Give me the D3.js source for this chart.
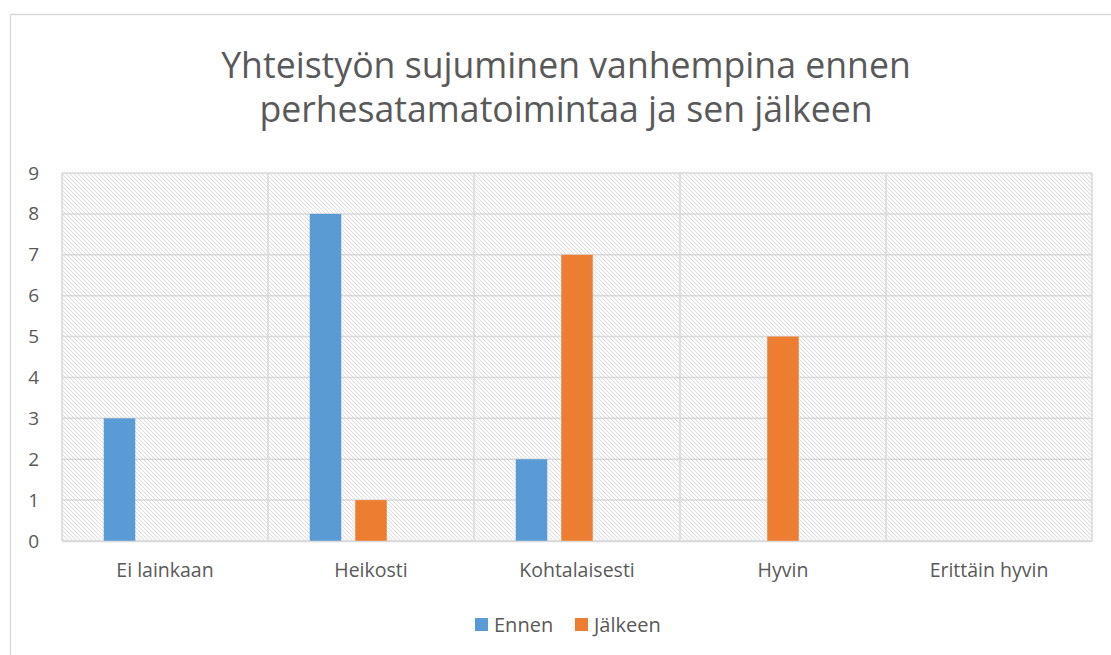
<!DOCTYPE html>
<html><head><meta charset="utf-8">
<script src="https://cdn.jsdelivr.net/npm/d3@7"></script>
<style>html,body{margin:0;padding:0;background:#fff;}svg{display:block;}</style>
</head><body>
<svg id="c" width="1111" height="655"></svg>
<script>
const categories = ["Ei lainkaan", "Heikosti", "Kohtalaisesti", "Hyvin", "Erittäin hyvin"];
const seriesNames = ["Ennen", "Jälkeen"];
const ennen = [3, 8, 2, 0, 0];
const jalkeen = [0, 1, 7, 5, 0];
const yTicks = [0, 1, 2, 3, 4, 5, 6, 7, 8, 9];
const titleLines = ["Yhteistyön sujuminen vanhempina ennen", "perhesatamatoimintaa ja sen jälkeen"];
const colors = ["#5B9BD5", "#ED7D31"];

const svg = d3.select("#c");
const textColor = "#595959";
const gridColor = "#d9d9d9";
const font = "'Open Sans', sans-serif";

svg.append("rect").attr("x", 10.5).attr("y", 14.5).attr("width", 1200).attr("height", 800)
  .attr("fill", "#fff").attr("stroke", gridColor).attr("stroke-width", 1.5);

const plot = {left: 62, right: 1092, top: 173, bottom: 541};

const defs = svg.append("defs");
const pat = defs.append("pattern").attr("id", "hatch").attr("patternUnits", "userSpaceOnUse")
  .attr("width", 4).attr("height", 4);
pat.append("rect").attr("width", 4).attr("height", 4).attr("fill", "#fff");
pat.append("path").attr("d", "M-1,-1 L5,5 M-1,3 L1,5 M3,-1 L5,1")
  .attr("stroke", "#e0e0e0").attr("stroke-width", 1.1);

const x0 = d3.scaleBand().domain(categories).range([plot.left, plot.right]).padding(0);
// three slots per category (third slot empty, as in the original layout)
const x1 = d3.scaleBand().domain([0, 1, 2]).range([0, x0.bandwidth()])
  .paddingInner(0.308).paddingOuter(0.918);
const y = d3.scaleLinear().domain([0, 9]).range([plot.bottom, plot.top]);

svg.append("rect").attr("x", plot.left).attr("y", plot.top)
  .attr("width", plot.right - plot.left).attr("height", plot.bottom - plot.top)
  .attr("fill", "url(#hatch)");

svg.append("g").selectAll("line").data(yTicks).join("line")
  .attr("x1", plot.left).attr("x2", plot.right)
  .attr("y1", d => y(d)).attr("y2", d => y(d))
  .attr("stroke", gridColor).attr("stroke-width", 1.5);
const bounds = categories.map(c => x0(c)).concat([plot.right]);
svg.append("g").selectAll("line").data(bounds).join("line")
  .attr("x1", d => d).attr("x2", d => d)
  .attr("y1", plot.top).attr("y2", plot.bottom)
  .attr("stroke", gridColor).attr("stroke-width", 1.5);

const data = [ennen, jalkeen];
data.forEach((vals, si) => {
  svg.append("g").selectAll("rect").data(vals).join("rect")
    .attr("x", (d, i) => x0(categories[i]) + x1(si))
    .attr("width", x1.bandwidth())
    .attr("y", d => y(d))
    .attr("height", d => y(0) - y(d))
    .attr("fill", colors[si]);
});

const yAxis = d3.axisLeft(y).tickValues(yTicks).tickSize(0).tickPadding(23);
const ya = svg.append("g").attr("transform", `translate(${plot.left},0)`).call(yAxis);
ya.select(".domain").remove();
ya.selectAll("text").attr("fill", textColor).style("font-family", font).style("font-size", "19px");

const xAxis = d3.axisBottom(x0).tickSize(0).tickPadding(22);
const xa = svg.append("g").attr("transform", `translate(0,${plot.bottom})`).call(xAxis);
xa.select(".domain").attr("stroke", gridColor).attr("stroke-width", 1.5);
xa.selectAll("text").attr("fill", textColor).style("font-family", font).style("font-size", "19.5px");

const tg = svg.append("g");
titleLines.forEach((t, i) => {
  tg.append("text").attr("x", 566).attr("y", 78 + i * 44).attr("text-anchor", "middle")
    .attr("fill", textColor).style("font-family", font).style("font-size", "34px")
    .text(t);
});
const first = tg.select("text").node();
const w = first.getComputedTextLength();
const fs = 34 * 690 / w;
tg.selectAll("text").style("font-size", fs + "px");

const lg = svg.append("g").attr("transform", "translate(0,625)");
const legendX = [475, 575];
seriesNames.forEach((n, i) => {
  lg.append("rect").attr("x", legendX[i]).attr("y", -7).attr("width", 13).attr("height", 13).attr("fill", colors[i]);
  lg.append("text").attr("x", legendX[i] + 19).attr("y", 7).attr("fill", textColor)
    .style("font-family", font).style("font-size", "20px").text(n);
});
</script>
</body></html>
